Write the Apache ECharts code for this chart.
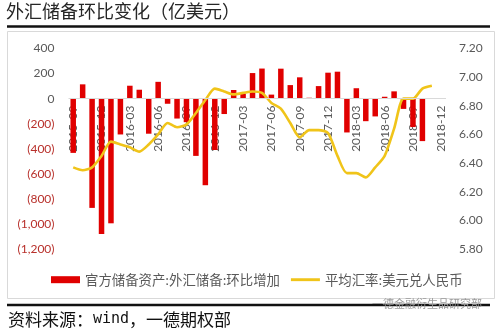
<!DOCTYPE html>
<html>
<head>
<meta charset="utf-8">
<script src="https://cdn.jsdelivr.net/npm/echarts@6/dist/echarts.min.js"></script>
<style>
  html, body { margin: 0; padding: 0; background: #ffffff; }
  #chart { width: 500px; height: 332px; }
</style>
</head>
<body>
<div id="chart"></div>
<script>
// Months on the category axis (2015-09 .. 2018-12)
const months = [
  '2015-09','2015-10','2015-11','2015-12',
  '2016-01','2016-02','2016-03','2016-04','2016-05','2016-06',
  '2016-07','2016-08','2016-09','2016-10','2016-11','2016-12',
  '2017-01','2017-02','2017-03','2017-04','2017-05','2017-06',
  '2017-07','2017-08','2017-09','2017-10','2017-11','2017-12',
  '2018-01','2018-02','2018-03','2018-04','2018-05','2018-06',
  '2018-07','2018-08','2018-09','2018-10','2018-11','2018-12'
];

// Month-on-month change of FX reserves (100 million USD)
const reserveChange = [
  -433, 114, -872, -1080,
  -995, -286, 103, 71, -280, 134,
  -41, -159, -188, -457, -691, -410,
  -123, 69, 40, 204, 240, 32,
  239, 108, 170, 7, 100, 207,
  215, -270, 83, -180, -142, 15,
  58, -82, -227, -339, null, null
];

// Average USD/CNY exchange rate
const usdCny = [
  6.37, 6.35, 6.37, 6.45,
  6.55, 6.53, 6.51, 6.48, 6.53, 6.60,
  6.68, 6.65, 6.67, 6.75, 6.84, 6.92,
  6.90, 6.88, 6.89, 6.90, 6.89, 6.82,
  6.78, 6.68, 6.58, 6.63, 6.63, 6.61,
  6.45, 6.33, 6.33, 6.30, 6.37, 6.45,
  6.64, 6.85, 6.85, 6.92, 6.94, null
];

const barName = '官方储备资产:外汇储备:环比增加';
const lineName = '平均汇率:美元兑人民币';
const titleText = '外汇储备环比变化（亿美元）';

const cjk = '"Noto Sans CJK SC", "Noto Sans", sans-serif';
const num = 'Lato, "Liberation Sans", sans-serif';

// grid geometry; month labels hang just below the zero line
const gridTop = 48.5;
const gridBottom = 83;
const plotBottomY = 332 - gridBottom;
const zeroY = gridTop + (400 / 1600) * (plotBottomY - gridTop);
const monthLabelMargin = (zeroY + 7) - plotBottomY;

function fmtLeft(v) {
  const s = Math.abs(v).toLocaleString('en-US');
  return v < 0 ? '{neg|(' + s + ')}' : '{pos|' + s + '}';
}

const chart = echarts.init(document.getElementById('chart'), null, { renderer: 'canvas' });

chart.setOption({
  backgroundColor: '#ffffff',
  animation: false,
  graphic: [
    { type: 'text', left: 6, top: 2,
      style: { text: titleText, font: '18px ' + cjk, fill: '#262626' } },
    { type: 'line', shape: { x1: 7, y1: 26.5, x2: 490, y2: 26.5 },
      style: { stroke: '#111111', lineWidth: 2.5 } },
    { type: 'rect', shape: { x: 7.5, y: 31.5, width: 487, height: 267 },
      style: { fill: 'none', stroke: '#d9d9d9', lineWidth: 1 }, z: -1 },
    { type: 'line', shape: { x1: 7, y1: 305, x2: 490, y2: 305 },
      style: { stroke: '#111111', lineWidth: 2.5 } },
    { type: 'text', left: 8, top: 311,
      style: {
        text: '{a|资料来源：}{b|wind}{a|，一德期权部}',
        rich: {
          a: { font: '17px ' + cjk, fill: '#111111' },
          b: { font: '15px "DejaVu Sans Mono", monospace', fill: '#111111' }
        }
      } },
    { type: 'text', left: 372, top: 298,
      style: { text: '一德金融衍生品研究部', font: '11px ' + cjk, fill: '#9a9a9a' } }
  ],
  grid: { left: 68.5, right: 54, top: gridTop, bottom: gridBottom },
  legend: {
    left: 46, top: 268,
    itemWidth: 29, itemHeight: 7, itemGap: 11,
    textStyle: { fontFamily: cjk, fontSize: 13.4, color: '#595959' },
    data: [
      { name: barName, icon: 'rect' },
      { name: lineName, icon: 'path://M0,0H30V3H0Z' }
    ]
  },
  xAxis: {
    type: 'category',
    data: months,
    boundaryGap: true,
    axisLine: { show: false, onZero: false },
    axisTick: { show: false },
    axisLabel: {
      interval: 2, rotate: 90, margin: monthLabelMargin,
      fontFamily: num, fontSize: 12, color: '#595959'
    }
  },
  yAxis: [
    {
      type: 'value', min: -1200, max: 400, interval: 200,
      axisLine: { show: false }, axisTick: { show: false },
      splitLine: { show: false },
      axisLabel: {
        margin: 14,
        formatter: fmtLeft,
        rich: {
          pos: { fontFamily: num, fontSize: 12, color: '#595959' },
          neg: { fontFamily: num, fontSize: 12, color: '#b8302b' }
        }
      }
    },
    {
      type: 'value', min: 5.8, max: 7.2, interval: 0.2,
      position: 'right',
      axisLine: { show: false }, axisTick: { show: false },
      splitLine: { show: false },
      axisLabel: {
        margin: 13,
        fontFamily: num, fontSize: 12, color: '#595959',
        formatter: v => v.toFixed(2)
      }
    }
  ],
  series: [
    {
      name: barName, type: 'bar', yAxisIndex: 0,
      data: reserveChange, barWidth: 5.5,
      itemStyle: { color: '#e00000' },
      markLine: {
        silent: true, symbol: 'none', label: { show: false },
        lineStyle: { color: '#d9d9d9', width: 1, type: 'solid' },
        data: [{ yAxis: 0 }]
      }
    },
    {
      name: lineName, type: 'line', yAxisIndex: 1,
      data: usdCny, symbol: 'none', smooth: 0.25,
      lineStyle: { color: '#f0c419', width: 2.6 },
      itemStyle: { color: '#f0c419' }
    }
  ]
});
</script>
</body>
</html>
